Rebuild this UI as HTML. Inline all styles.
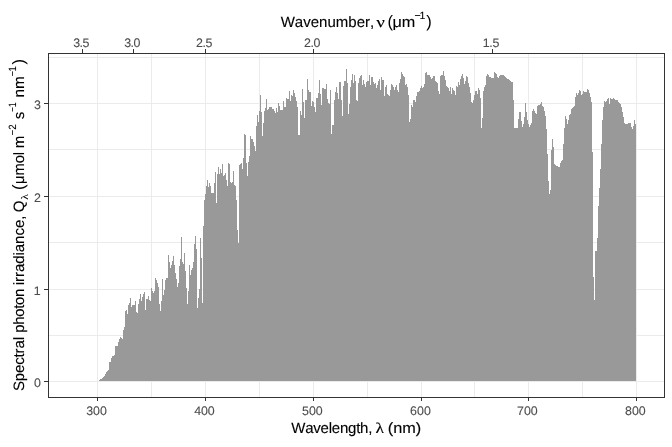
<!DOCTYPE html>
<html><head><meta charset="utf-8"><title>Solar spectrum</title>
<style>
html,body{margin:0;padding:0;background:#fff;}
body{width:672px;height:447px;overflow:hidden;}
svg{display:block;}
text{font-family:"Liberation Sans",Arial,sans-serif;}
text{font-kerning:none;text-rendering:geometricPrecision;}
.t{fill:#4d4d4d;stroke:#4d4d4d;stroke-width:0.1px;}
.a{fill:#000;stroke:#000;stroke-width:0.12px;}
.p{fill:#000;}
.g{font-family:"Liberation Serif","DejaVu Serif",serif;}
</style></head><body>
<svg width="672" height="447" viewBox="0 0 672 447">
<rect width="672" height="447" fill="#fff"/>
<g shape-rendering="crispEdges">
<rect x="151" y="54" width="1" height="343" fill="#ebebeb"/>
<rect x="259" y="54" width="1" height="343" fill="#ebebeb"/>
<rect x="367" y="54" width="1" height="343" fill="#ebebeb"/>
<rect x="474" y="54" width="1" height="343" fill="#ebebeb"/>
<rect x="582" y="54" width="1" height="343" fill="#ebebeb"/>
<rect x="49" y="335" width="615" height="1" fill="#ebebeb"/>
<rect x="49" y="242" width="615" height="1" fill="#ebebeb"/>
<rect x="49" y="149" width="615" height="1" fill="#ebebeb"/>
<rect x="49" y="57" width="615" height="1" fill="#ebebeb"/>
<rect x="97" y="54" width="1" height="343" fill="#ebebeb"/>
<rect x="205" y="54" width="1" height="343" fill="#ebebeb"/>
<rect x="313" y="54" width="1" height="343" fill="#ebebeb"/>
<rect x="421" y="54" width="1" height="343" fill="#ebebeb"/>
<rect x="528" y="54" width="1" height="343" fill="#ebebeb"/>
<rect x="636" y="54" width="1" height="343" fill="#ebebeb"/>
<rect x="49" y="381" width="615" height="1" fill="#ebebeb"/>
<rect x="49" y="289" width="615" height="1" fill="#ebebeb"/>
<rect x="49" y="196" width="615" height="1" fill="#ebebeb"/>
<rect x="49" y="103" width="615" height="1" fill="#ebebeb"/>
</g>
<path d="M98 381V381h1V380h1V379h2V378h1V377h1V376h1V374h1V372h1V371h1V370h1V362h2V358h1V356h2V355h1V346h3V342h1V339h1V337h1V338h1V339h1V330h1V327h1V311h1V310h1V314h1V305h1V303h1V298h1V307h1V305h3V301h1V312h1V313h1V304h1V299h1V294h1V301h1V297h1V294h1V292h1V310h1V299h2V296h1V300h1V301h1V288h1V291h1V293h1V291h1V278h1V280h1V283h1V287h1V304h1V311h1V301h1V279h1V295h1V290h1V280h1V278h2V255h1V262h1V268h1V265h1V261h1V256h1V265h1V273h1V279h1V287h1V283h1V266h1V259h1V237h1V262h1V264h1V253h1V271h1V288h1V304h1V291h1V265h1V275h1V270h1V268h1V262h1V244h1V236h1V249h1V308h1V298h1V289h1V238h1V258h1V303h1V226h1V200h1V194h1V186h1V180h1V187h1V183h1V186h1V193h3V183h1V172h1V203h1V174h1V167h1V174h1V169h1V173h1V164h1V176h1V175h1V173h1V180h1V186h1V163h1V164h1V182h1V183h1V182h1V171h1V185h1V186h1V200h1V230h1V243h1V165h1V164h1V163h1V169h1V158h1V134h1V135h1V163h1V176h1V162h1V156h1V136h1V139h2V142h1V146h1V151h1V126h1V115h1V122h1V111h1V95h1V112h1V136h1V123h1V111h1V108h1V99h1V110h1V109h1V107h3V109h2V111h1V113h1V108h1V112h1V103h1V106h1V110h3V101h1V107h2V98h1V99h2V91h1V101h1V95h1V96h1V90h1V93h1V97h1V101h1V107h1V135h2V111h1V115h1V89h1V102h1V118h1V100h2V79h1V90h1V92h2V106h1V101h1V102h1V107h1V112h1V98h2V93h1V80h1V94h1V105h1V88h2V89h2V84h1V99h1V103h1V104h1V90h1V134h1V125h2V100h1V92h1V87h1V93h1V99h1V82h2V100h1V116h1V86h1V81h2V69h1V83h1V114h1V104h1V87h1V80h1V74h1V83h1V75h1V81h1V100h1V101h1V83h1V78h1V76h1V75h1V85h1V80h1V84h1V87h1V82h1V81h2V75h1V85h1V77h2V82h1V84h1V83h1V88h1V85h1V81h1V79h1V90h1V77h1V80h2V96h1V87h1V85h1V94h1V95h1V96h1V90h1V84h1V85h1V87h1V90h1V87h1V85h1V90h1V92h1V83h1V79h1V72h1V74h1V76h1V77h1V85h1V84h1V87h1V95h1V122h1V119h1V105h1V107h1V100h2V102h1V96h1V92h2V91h1V88h1V86h1V88h1V87h1V84h1V73h1V72h1V75h3V77h1V79h1V78h1V76h2V81h1V82h1V83h1V91h1V94h1V76h1V75h2V71h1V76h1V80h1V86h1V87h1V88h1V91h1V87h1V94h1V88h1V90h1V91h1V95h1V86h1V87h1V82h1V85h1V79h1V76h1V74h1V78h1V84h1V81h1V76h1V77h1V83h1V87h1V93h1V102h1V103h1V100h1V95h1V91h2V94h1V88h1V90h1V98h1V128h1V118h1V91h1V87h1V85h1V76h1V74h1V75h1V77h2V78h3V72h1V73h1V74h1V77h1V78h1V76h1V75h4V76h1V77h1V78h1V79h2V80h1V81h1V82h2V100h1V128h4V119h1V112h2V121h1V127h1V124h1V117h1V103h1V112h1V120h1V124h1V127h1V125h1V123h1V111h1V109h1V111h1V113h1V114h1V106h1V105h2V104h1V102h1V106h1V107h1V111h1V116h1V129h1V154h1V181h1V194h1V190h1V150h1V139h1V147h1V164h1V165h1V166h2V167h2V163h1V161h1V160h1V144h1V128h1V116h1V119h1V124h1V120h1V115h1V114h1V109h1V108h1V107h1V106h1V97h1V93h1V95h1V93h1V90h1V91h1V95h1V94h1V91h1V92h3V89h1V90h1V93h1V97h1V102h1V152h1V277h1V300h1V251h2V238h1V206h1V188h1V169h1V144h1V120h1V107h1V101h1V102h1V101h1V99h1V98h1V104h1V98h1V99h2V98h1V99h1V100h3V102h1V103h1V104h1V107h1V112h1V117h1V123h1V124h3V123h3V127h1V129h1V126h1V120h1V124h1V381Z" fill="#999999" stroke="none" shape-rendering="crispEdges"/>
<rect x="48.5" y="53.5" width="616" height="344" fill="none" stroke="#333" stroke-width="1.07" shape-rendering="crispEdges"/>
<g shape-rendering="crispEdges">
<rect x="97" y="398" width="1" height="3" fill="#333"/>
<rect x="205" y="398" width="1" height="3" fill="#333"/>
<rect x="313" y="398" width="1" height="3" fill="#333"/>
<rect x="421" y="398" width="1" height="3" fill="#333"/>
<rect x="528" y="398" width="1" height="3" fill="#333"/>
<rect x="636" y="398" width="1" height="3" fill="#333"/>
<rect x="82" y="49" width="1" height="4" fill="#333"/>
<rect x="133" y="49" width="1" height="4" fill="#333"/>
<rect x="205" y="49" width="1" height="4" fill="#333"/>
<rect x="313" y="49" width="1" height="4" fill="#333"/>
<rect x="492" y="49" width="1" height="4" fill="#333"/>
<rect x="44" y="381" width="4" height="1" fill="#333"/>
<rect x="44" y="289" width="4" height="1" fill="#333"/>
<rect x="44" y="196" width="4" height="1" fill="#333"/>
<rect x="44" y="103" width="4" height="1" fill="#333"/>
</g>
<text class="t" x="86.13" y="414.80" font-size="12.40" letter-spacing="-0.016">300</text>
<text class="t" x="194.32" y="414.80" font-size="12.40" letter-spacing="-0.110">400</text>
<text class="t" x="302.10" y="414.80" font-size="12.40" letter-spacing="-0.004">500</text>
<text class="t" x="409.97" y="414.80" font-size="12.40" letter-spacing="0.063">600</text>
<text class="t" x="516.96" y="414.80" font-size="12.40" letter-spacing="0.066">700</text>
<text class="t" x="625.06" y="414.80" font-size="12.40" letter-spacing="0.017">800</text>
<text class="t" x="73.13" y="46.80" font-size="12.40" letter-spacing="-0.422">3.5</text>
<text class="t" x="124.13" y="46.80" font-size="12.40" letter-spacing="-0.441">3.0</text>
<text class="t" x="195.98" y="46.80" font-size="12.40" letter-spacing="-0.347">2.5</text>
<text class="t" x="303.98" y="46.80" font-size="12.40" letter-spacing="-0.365">2.0</text>
<text class="t" x="482.66" y="46.80" font-size="12.40" letter-spacing="-0.186">1.5</text>
<text class="t" x="33.95" y="386.70" font-size="12.40">0</text>
<text class="t" x="33.78" y="294.70" font-size="12.40">1</text>
<text class="t" x="33.95" y="201.70" font-size="12.40">2</text>
<text class="t" x="33.99" y="108.70" font-size="12.40">3</text>
<text><tspan class="a" x="280.63" y="26.60" font-size="15.00" letter-spacing="0.024">Wavenumber,</tspan> <tspan class="a g" x="376.46" y="26.60" font-size="15.00" textLength="8.27" lengthAdjust="spacingAndGlyphs">ν</tspan> <tspan class="p" x="387.49" y="27.35" font-size="16.50">(</tspan><tspan class="a" x="392.41" y="26.60" font-size="15.00" textLength="22.86" lengthAdjust="spacingAndGlyphs">μm</tspan><tspan class="a" x="414.38" y="18.85" font-size="10.50" letter-spacing="-1.041">−1</tspan><tspan class="p" x="426.32" y="27.35" font-size="16.50">)</tspan></text>
<text><tspan class="a" x="291.33" y="432.70" font-size="15.00" letter-spacing="-0.237">Wavelength,</tspan> <tspan class="a g" x="375.63" y="432.70" font-size="15.00" textLength="8.56" lengthAdjust="spacingAndGlyphs">λ</tspan> <tspan class="a" x="387.79" y="432.70" font-size="15.00" textLength="33.52" lengthAdjust="spacingAndGlyphs">(nm)</tspan></text>
<g transform="translate(24.00,0) rotate(-90)"><text><tspan class="a" x="-391.08" y="0.00" font-size="15.00" letter-spacing="-0.135">Spectral</tspan> <tspan class="a" x="-332.67" y="0.00" font-size="15.00" letter-spacing="-0.388">photon</tspan> <tspan class="a" x="-285.30" y="0.00" font-size="15.00" letter-spacing="-0.038">irradiance,</tspan> <tspan class="a" x="-212.18" y="0.00" font-size="15.00">Q</tspan><tspan class="p g" x="-199.81" y="4.20" font-size="10.00" textLength="5.78" lengthAdjust="spacingAndGlyphs">λ</tspan> <tspan class="p" x="-189.91" y="0.20" font-size="16.50">(</tspan><tspan class="a" x="-184.09" y="0.00" font-size="15.00" textLength="32.18" lengthAdjust="spacingAndGlyphs">μmol</tspan> <tspan class="a" x="-148.25" y="0.00" font-size="15.00">m</tspan><tspan class="a" x="-135.48" y="-7.80" font-size="10.50" textLength="11.07" lengthAdjust="spacingAndGlyphs">−2</tspan> <tspan class="a" x="-119.14" y="0.00" font-size="15.00">s</tspan><tspan class="a" x="-111.80" y="-7.80" font-size="10.50" textLength="9.19" lengthAdjust="spacingAndGlyphs">−1</tspan> <tspan class="a" x="-97.41" y="0.00" font-size="15.00" textLength="21.22" lengthAdjust="spacingAndGlyphs">nm</tspan><tspan class="a" x="-76.23" y="-7.80" font-size="10.50" textLength="9.85" lengthAdjust="spacingAndGlyphs">−1</tspan><tspan class="p" x="-64.58" y="0.20" font-size="16.50">)</tspan></text></g>
</svg>
</body></html>
